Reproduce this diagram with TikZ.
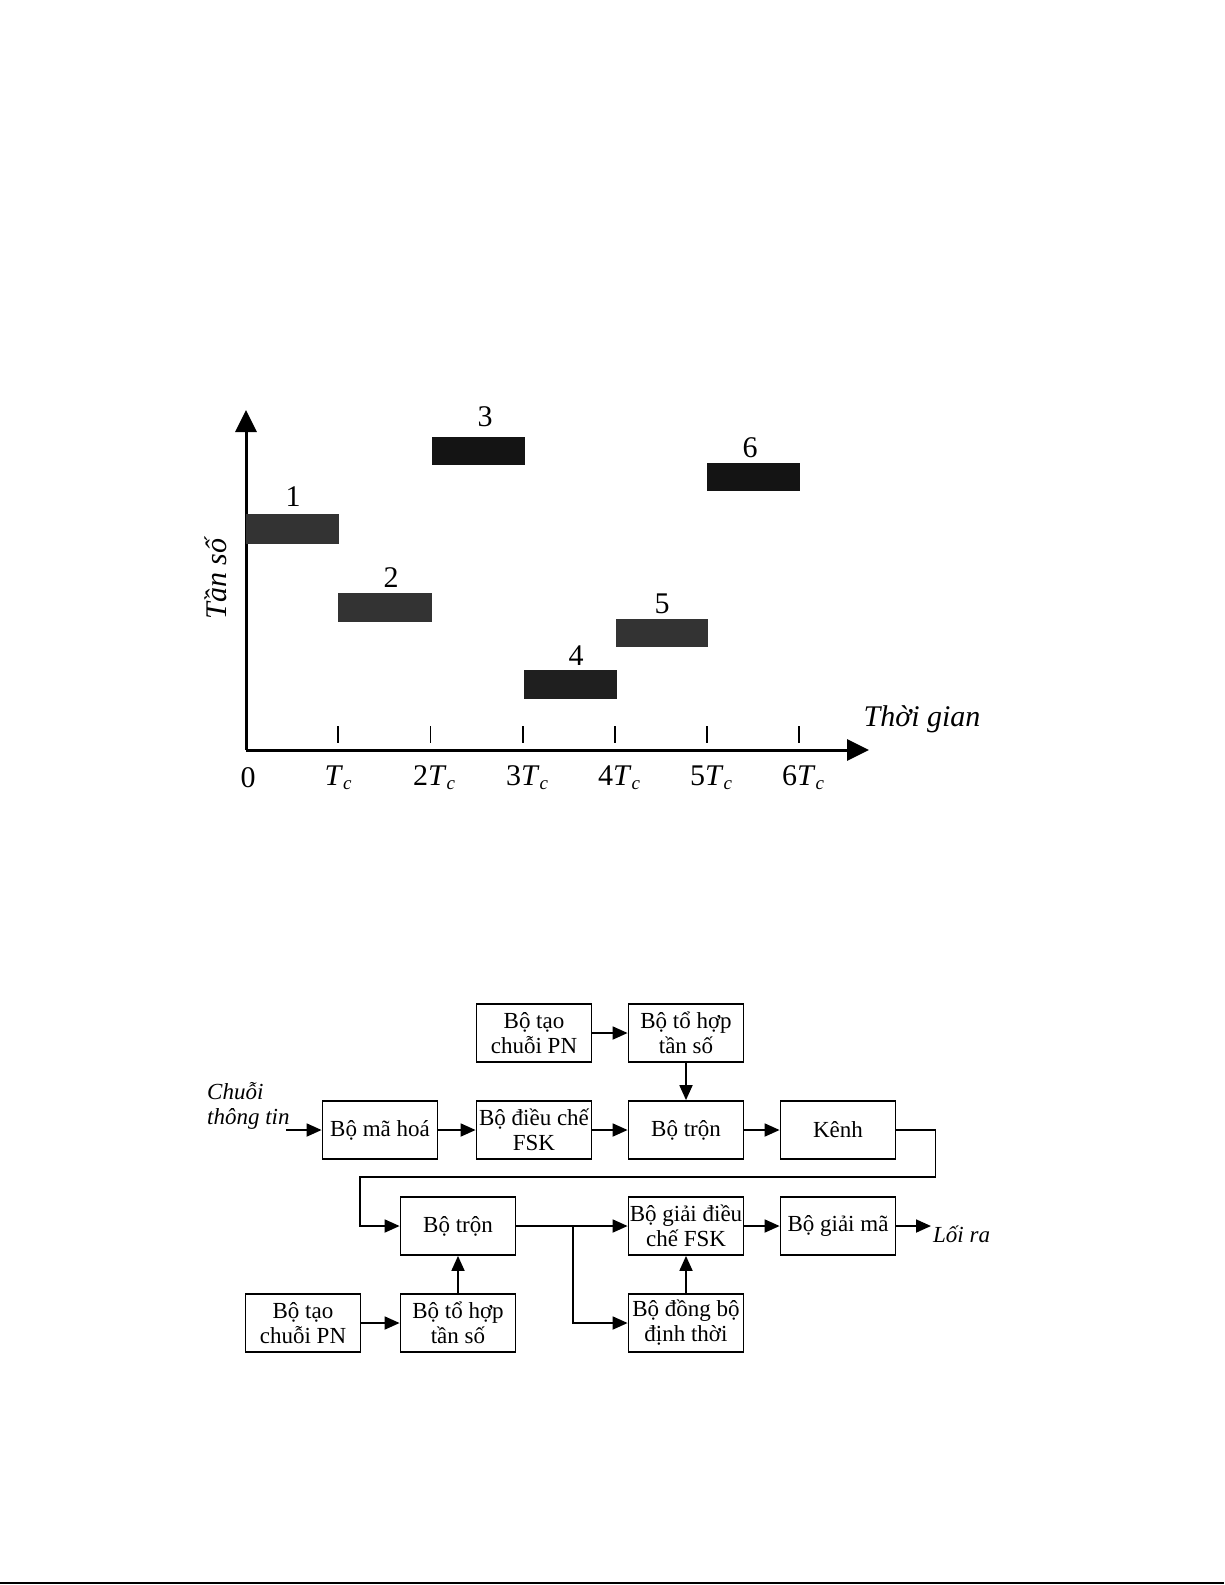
\documentclass[tikz,border=0pt]{standalone}
\usepackage{fontspec}
\setmainfont{Liberation Serif}
\usetikzlibrary{arrows.meta}
\newcommand{\tcsym}{\textit{T}\raisebox{-4pt}{\fontsize{19}{19}\selectfont\textit{c}}}

\begin{document}
\begin{tikzpicture}[
    x=1pt, y=-1pt,
    box/.style={draw, line width=1.8pt, rectangle, minimum width=115pt,
                minimum height=58pt, inner sep=1pt, align=center,
                font=\fontsize{23}{25}\selectfont},
    lbl/.style={font=\fontsize{23}{25}\selectfont\itshape, align=left, inner sep=0pt},
    arrow/.style={-{Triangle[length=15pt,width=13pt]}, line width=1.8pt},
    axis/.style={-{Triangle[length=22pt,width=21pt]}, line width=3pt},
    chip/.style={draw=none},
    num/.style={font=\fontsize{30}{34}\selectfont}
]
    \useasboundingbox (0,0) rectangle (1225,1585);

    % Time-frequency chart
    \coordinate (o) at (246,750);
    \coordinate (ytip) at (246,410);
    \coordinate (xtip) at (869,750);
    \draw[axis] (o) -- (ytip);
    \draw[axis] (o) -- (xtip);
    \foreach \i in {1,...,6}
        \draw[line width=1.8pt] (246+92.2*\i,726) -- (246+92.2*\i,743);
    \node[num] (t0) at (248,778) {0};
    \node[num] (t1) at (338,778) {\tcsym};
    \node[num] (t2) at (434,778) {2\tcsym};
    \node[num] (t3) at (527,778) {3\tcsym};
    \node[num] (t4) at (619,778) {4\tcsym};
    \node[num] (t5) at (711,778) {5\tcsym};
    \node[num] (t6) at (803,778) {6\tcsym};
    \node[num, rotate=90, font=\fontsize{30}{34}\selectfont\itshape] (freq) at (216,579) {Tần số};
    \node[num, font=\fontsize{30}{34}\selectfont\itshape] (time) at (922,719) {Thời gian};

    % Hops
    \fill[chip, black!80] (246,514) rectangle (339,544);
    \fill[chip, black!80] (338,593) rectangle (432,622);
    \fill[chip, black!92] (432,437) rectangle (525,465);
    \fill[chip, black!88] (524,670) rectangle (617,699);
    \fill[chip, black!80] (616,619) rectangle (708,647);
    \fill[chip, black!92] (707,463) rectangle (800,491);
    \node[num] (h1) at (293,497) {1};
    \node[num] (h2) at (391,578) {2};
    \node[num] (h3) at (485,417) {3};
    \node[num] (h4) at (576,656) {4};
    \node[num] (h5) at (662,604) {5};
    \node[num] (h6) at (750,448) {6};

    % Transmitter
    \node[box] (pntx) at (534,1033) {Bộ tạo\\chuỗi PN};
    \node[box] (fstx) at (686,1033) {Bộ tổ hợp\\tần số};
    \node[box] (enc) at (380,1130) {Bộ mã hoá};
    \node[box] (mod) at (534,1130) {Bộ điều chế\\FSK};
    \node[box] (mixtx) at (686,1130) {Bộ trộn};
    \node[box] (chan) at (838,1130) {Kênh};
    \node[lbl, anchor=west] (src) at (207,1106) {Chuỗi\\thông tin};
    \coordinate (in) at (286,1130);

    % Receiver
    \node[box] (mixrx) at (458,1226) {Bộ trộn};
    \node[box] (demod) at (686,1226) {Bộ giải điều\\chế FSK};
    \node[box] (dec) at (838,1226) {Bộ giải mã};
    \node[box] (pnrx) at (303,1323) {Bộ tạo\\chuỗi PN};
    \node[box] (fsrx) at (458,1323) {Bộ tổ hợp\\tần số};
    \node[box] (sync) at (686,1323) {Bộ đồng bộ\\định thời};
    \coordinate (out) at (931,1226);
    \node[lbl, anchor=west] (sink) at (933,1234) {Lối ra};
    \coordinate (split) at (573,1226);

    % Arrows
    \draw[arrow] (pntx) -- (fstx);
    \draw[arrow] (fstx) -- (mixtx);
    \draw[arrow] (in) -- (enc);
    \draw[arrow] (enc) -- (mod);
    \draw[arrow] (mod) -- (mixtx);
    \draw[arrow] (mixtx) -- (chan);
    \draw[arrow] (chan.east) -- ++(39,0) |- (360,1177) |- (mixrx.west);
    \draw[arrow] (mixrx) -- (demod);
    \draw[arrow] (split) |- (sync.west);
    \draw[arrow] (demod) -- (dec);
    \draw[arrow] (dec) -- (out);
    \draw[arrow] (pnrx) -- (fsrx);
    \draw[arrow] (fsrx) -- (mixrx);
    \draw[arrow] (sync) -- (demod);

    % Page rule
    \draw[line width=2pt] (0,1583) -- (1224,1583);
\end{tikzpicture}
\end{document}
